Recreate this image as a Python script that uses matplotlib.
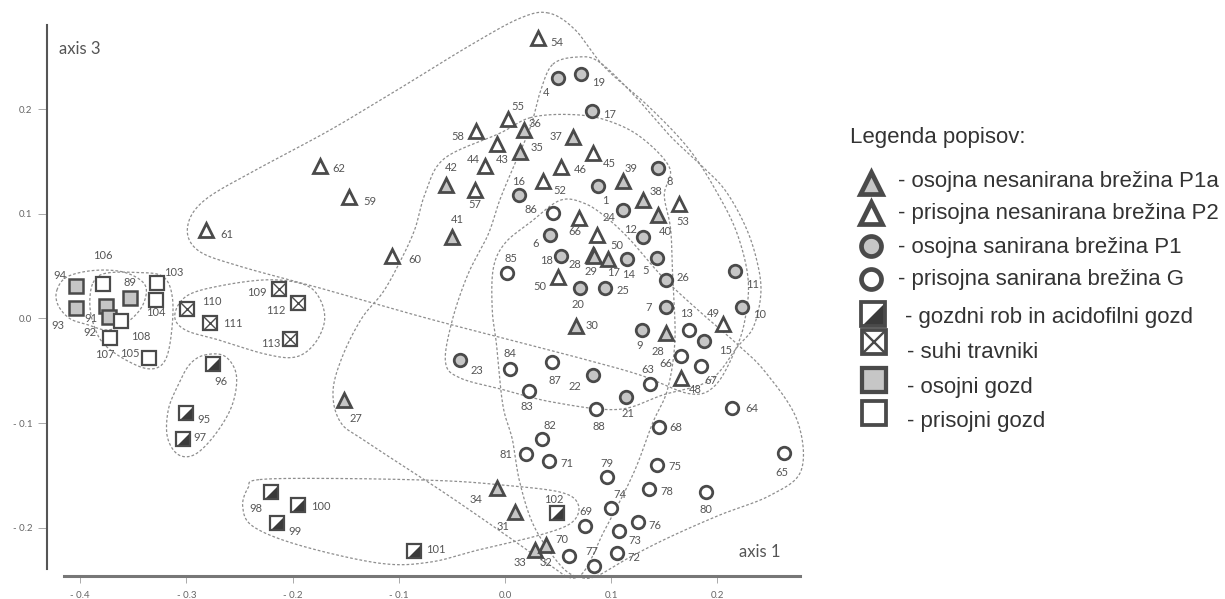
import numpy as np
import matplotlib.pyplot as plt

# releve scores on ordination axes 1 and 3, grouped by habitat type
p1a_id = ['36', '35', '42', '41', '37', '39', '38', '40', '28', '29', '17', '30', '28', '27', '34', '31', '33', '32']
p1a_x = [0.018, 0.014, -0.056, -0.050, 0.064, 0.111, 0.130, 0.144, 0.083, 0.084, 0.097, 0.067, 0.152, -0.152,
         -0.008, 0.009, 0.028, 0.039]
p1a_y = [0.180, 0.159, 0.128, 0.078, 0.173, 0.131, 0.113, 0.099, 0.061, 0.060, 0.057, -0.007, -0.014, -0.078,
         -0.162, -0.185, -0.221, -0.217]

p2_id = ['54', '55', '58', '43', '44', '57', '46', '52', '45', '53', '62', '59', '61', '60', '66', '50', '50', '49', '48']
p2_x = [0.031, 0.003, -0.027, -0.008, -0.019, -0.028, 0.053, 0.036, 0.083, 0.164, -0.174, -0.147, -0.282, -0.106,
        0.070, 0.087, 0.050, 0.205, 0.166]
p2_y = [0.268, 0.191, 0.179, 0.167, 0.146, 0.123, 0.145, 0.131, 0.158, 0.109, 0.146, 0.116, 0.085, 0.060,
        0.096, 0.080, 0.040, -0.005, -0.057]

p1_id = ['1', '8', '24', '16', '12', '5', '14', '26', '6', '18', '20', '25', '11', '10', '7', '9', '15', '22', '21',
         '23', '4', '19', '17']
p1_x = [0.088, 0.144, 0.111, 0.013, 0.130, 0.143, 0.115, 0.152, 0.042, 0.053, 0.071, 0.094, 0.217, 0.223, 0.152,
        0.129, 0.187, 0.083, 0.114, -0.042, 0.050, 0.072, 0.082]
p1_y = [0.127, 0.144, 0.104, 0.118, 0.078, 0.058, 0.057, 0.037, 0.080, 0.060, 0.029, 0.029, 0.045, 0.011, 0.011,
        -0.011, -0.022, -0.054, -0.075, -0.040, 0.230, 0.234, 0.198]

g_id = ['86', '85', '13', '66', '67', '84', '87', '83', '63', '88', '68', '64', '82', '81', '71', '79', '75', '78',
        '80', '65', '74', '69', '76', '73', '72', '70', '77']
g_x = [0.045, 0.002, 0.173, 0.166, 0.185, 0.005, 0.044, 0.023, 0.137, 0.086, 0.145, 0.214, 0.035, 0.020, 0.041,
       0.096, 0.143, 0.136, 0.189, 0.263, 0.100, 0.075, 0.125, 0.107, 0.105, 0.060, 0.084]
g_y = [0.101, 0.043, -0.011, -0.036, -0.045, -0.048, -0.042, -0.069, -0.063, -0.087, -0.104, -0.086, -0.115,
       -0.130, -0.136, -0.152, -0.140, -0.163, -0.166, -0.129, -0.181, -0.198, -0.195, -0.203, -0.224, -0.227, -0.237]

rob_id = ['96', '95', '97', '98', '100', '99', '101', '102']
rob_x = [-0.275, -0.300, -0.303, -0.220, -0.195, -0.215, -0.086, 0.049]
rob_y = [-0.044, -0.090, -0.115, -0.166, -0.178, -0.196, -0.222, -0.186]

suhi_id = ['110', '111', '109', '112', '113']
suhi_x = [-0.299, -0.278, -0.213, -0.195, -0.202]
suhi_y = [0.009, -0.004, 0.028, 0.015, -0.020]

osg_id = ['94', '93', '89', '91', '92']
osg_x = [-0.404, -0.404, -0.353, -0.376, -0.373]
osg_y = [0.031, 0.010, 0.020, 0.012, 0.001]

prg_id = ['106', '103', '104', '108', '107', '105']
prg_x = [-0.379, -0.328, -0.329, -0.362, -0.372, -0.335]
prg_y = [0.033, 0.034, 0.018, -0.002, -0.019, -0.038]

# outlines drawn around each group
hull_p2_x = [0.041, 0.014, -0.033, -0.099, -0.165, -0.231, -0.283, -0.299, -0.289, -0.250, -0.174, -0.080, -0.005,
             0.071, 0.127, 0.174, 0.198, 0.217, 0.226, 0.229, 0.219, 0.201, 0.174, 0.137, 0.094, 0.066]
hull_p2_y = [0.292, 0.287, 0.261, 0.220, 0.180, 0.144, 0.113, 0.087, 0.065, 0.050, 0.029, 0.002, -0.018,
             -0.038, -0.054, -0.072, -0.064, -0.030, -0.001, 0.037, 0.080, 0.118, 0.161, 0.201, 0.240, 0.276]

hull_p1_x = [0.045, 0.069, 0.089, 0.121, 0.155, 0.184, 0.207, 0.226, 0.237, 0.241, 0.234, 0.219, 0.193, 0.149,
             0.106, 0.045, -0.002, -0.042, -0.056, -0.050, -0.035, -0.016, -0.005, 0.008, 0.024, 0.033]
hull_p1_y = [0.243, 0.250, 0.245, 0.214, 0.175, 0.147, 0.123, 0.089, 0.056, 0.025, -0.008, -0.027, -0.059, -0.073,
             -0.087, -0.080, -0.068, -0.057, -0.042, -0.003, 0.042, 0.080, 0.113, 0.145, 0.183, 0.216]

hull_p1a_x = [0.024, -0.005, -0.057, -0.075, -0.085, -0.099, -0.115, -0.135, -0.153, -0.162, -0.155, -0.132,
              -0.061, -0.002, 0.038, 0.069, 0.094, 0.121, 0.139, 0.153, 0.160, 0.158, 0.156, 0.150, 0.155, 0.127,
              0.094, 0.061]
hull_p1a_y = [0.192, 0.177, 0.153, 0.120, 0.085, 0.054, 0.025, 0.000, -0.036, -0.070, -0.099, -0.117, -0.164,
              -0.205, -0.233, -0.247, -0.202, -0.148, -0.100, -0.068, -0.021, 0.037, 0.085, 0.118, 0.144, 0.174,
              0.190, 0.195]

hull_g_x = [0.052, 0.075, 0.096, 0.118, 0.149, 0.184, 0.217, 0.245, 0.275, 0.279, 0.250, 0.202, 0.155, 0.118,
            0.089, 0.073, 0.054, 0.028, 0.014, 0.007, -0.002, -0.008, -0.012, -0.011, 0.000, 0.024]
hull_g_y = [0.113, 0.110, 0.096, 0.075, 0.039, 0.006, -0.023, -0.051, -0.097, -0.145, -0.169, -0.188, -0.209,
            -0.228, -0.245, -0.248, -0.238, -0.200, -0.157, -0.116, -0.083, -0.025, 0.008, 0.048, 0.072, 0.092]

hull_suhi_x = [-0.311, -0.299, -0.264, -0.221, -0.188, -0.174, -0.170, -0.180, -0.198, -0.226, -0.268, -0.301]
hull_suhi_y = [0.003, 0.022, 0.032, 0.037, 0.032, 0.018, -0.003, -0.025, -0.037, -0.034, -0.021, -0.011]

hull_rob1_x = [-0.283, -0.264, -0.253, -0.257, -0.273, -0.292, -0.308, -0.318, -0.317, -0.308, -0.297]
hull_rob1_y = [-0.035, -0.036, -0.054, -0.083, -0.111, -0.130, -0.130, -0.113, -0.087, -0.064, -0.044]

hull_rob2_x = [-0.231, -0.155, -0.061, -0.005, 0.052, 0.069, 0.063, 0.033, -0.024, -0.071, -0.118, -0.193,
               -0.237, -0.247, -0.242]
hull_rob2_y = [-0.154, -0.153, -0.155, -0.159, -0.166, -0.178, -0.195, -0.207, -0.221, -0.233, -0.234, -0.217,
               -0.199, -0.180, -0.162]

hull_osg_x = [-0.422, -0.412, -0.386, -0.358, -0.339, -0.341, -0.355, -0.374, -0.393, -0.410, -0.421]
hull_osg_y = [0.027, 0.040, 0.046, 0.044, 0.032, 0.013, -0.003, -0.011, -0.006, 0.000, 0.013]

hull_prg_x = [-0.388, -0.377, -0.348, -0.322, -0.313, -0.315, -0.322, -0.337, -0.360, -0.379, -0.388, -0.391]
hull_prg_y = [0.034, 0.043, 0.044, 0.040, 0.018, -0.021, -0.043, -0.048, -0.038, -0.023, -0.004, 0.015]

# label offsets (pixels, right / up) for each point
p1a_off = [(11, 7), (17, 5), (6, 17), (5, 17), (-17, 1), (8, 13), (13, 9), (7, -17), (-18, -10), (-3, -16),
           (6, -14), (16, 0), (-9, -18), (12, -18), (-20, -12), (-12, -15), (-15, -13), (0, -17)]
p2_off = [(19, -4), (10, 12), (-19, -5), (6, -16), (-12, 6), (0, -15), (19, -3), (17, -9), (16, -10), (4, -17),
          (19, -3), (21, -4), (21, -5), (22, -4), (-4, -13), (19, -11), (-18, -10), (-9, 10), (14, -11)]
p1_off = [(7, -15), (12, -14), (-14, -8), (0, 14), (-13, 7), (-11, -13), (1, -16), (17, 2), (-14, -9), (-15, -5),
          (-2, -16), (18, -2), (17, -13), (18, -8), (-18, -1), (-2, -16), (22, -9), (-18, -12), (2, -17),
          (16, -10), (-12, -15), (17, -9), (17, -3)]
g_off = [(-22, 3), (4, 15), (-2, 16), (-15, -7), (9, -15), (0, 15), (3, -18), (-3, -16), (-3, 15), (3, -17),
         (17, 0), (20, 0), (8, 13), (-20, 0), (18, -3), (0, 14), (18, -2), (17, -3), (0, -17), (-2, -19), (9, 13),
         (1, 14), (17, -3), (16, -10), (17, -5), (-7, 16), (-2, 15)]
rob_off = [(8, -17), (18, -7), (17, 1), (-16, -16), (23, -2), (18, -8), (22, 1), (-3, 14)]
suhi_off = [(24, 8), (23, -1), (-22, -3), (-22, -8), (-20, -4)]
osg_off = [(-16, 11), (-18, -17), (0, 15), (-15, -13), (-19, -15)]
prg_off = [(0, 28), (17, 10), (0, -13), (20, -16), (-5, -16), (-19, 5)]

legend_labels = ['- osojna nesanirana brežina P1a', '- prisojna nesanirana brežina P2',
                 '- osojna sanirana brežina P1', '- prisojna sanirana brežina G',
                 '- gozdni rob in acidofilni gozd', '- suhi travniki', '- osojni gozd', '- prisojni gozd']

EDGE = '#4a4a4a'
GRAY = '#c6c6c6'
DARK = '#3a3a3a'
HALF = [(-1, -1), (1, -1), (1, 1)]


def closed_curve(xs, ys, n=24):
    # closed Catmull-Rom spline through the outline points
    pts = np.column_stack([xs, ys])
    P = np.vstack([pts[-1], pts, pts[0], pts[1]])
    t = np.linspace(0, 1, n, endpoint=False)[:, None]
    segs = []
    for i in range(1, len(pts) + 1):
        p0, p1, p2, p3 = P[i - 1], P[i], P[i + 1], P[i + 2]
        segs.append(0.5 * (2 * p1 + (-p0 + p2) * t + (2 * p0 - 5 * p1 + 4 * p2 - p3) * t ** 2
                           + (-p0 + 3 * p1 - 3 * p2 + p3) * t ** 3))
    out = np.vstack(segs + [segs[0][:1]])
    return out[:, 0], out[:, 1]


def draw_marks(ax, xs, ys, kind, ms, mew, z=3):
    kw = dict(ls='none', zorder=z, clip_on=False)
    if kind == 'tri_gray':
        ax.plot(xs, ys, marker='^', ms=ms, mfc=GRAY, mec=EDGE, mew=mew, **kw)
    elif kind == 'tri_open':
        ax.plot(xs, ys, marker='^', ms=ms, mfc='white', mec=EDGE, mew=mew, **kw)
    elif kind == 'circ_gray':
        ax.plot(xs, ys, marker='o', ms=ms * 0.9, mfc=GRAY, mec=EDGE, mew=mew, **kw)
    elif kind == 'circ_open':
        ax.plot(xs, ys, marker='o', ms=ms * 0.9, mfc='white', mec=EDGE, mew=mew, **kw)
    elif kind == 'sq_half':
        ax.plot(xs, ys, marker='s', ms=ms, mfc='white', mec='none', **kw)
        ax.plot(xs, ys, marker=HALF, ms=ms, mfc=DARK, mec='none', **kw)
        ax.plot(xs, ys, marker='s', ms=ms, mfc='none', mec=EDGE, mew=mew * 0.8, **kw)
    elif kind == 'sq_cross':
        ax.plot(xs, ys, marker='s', ms=ms, mfc='white', mec=EDGE, mew=mew * 0.8, **kw)
        ax.plot(xs, ys, marker='x', ms=ms, mec=EDGE, mew=mew * 0.5, **kw)
    elif kind == 'sq_gray':
        ax.plot(xs, ys, marker='s', ms=ms, mfc=GRAY, mec=EDGE, mew=mew * 0.9, **kw)
    else:
        ax.plot(xs, ys, marker='s', ms=ms, mfc='white', mec=EDGE, mew=mew * 0.8, **kw)


plt.rcParams['font.family'] = ['Lato', 'DejaVu Sans']

fig = plt.figure(figsize=(12.25, 5.99), dpi=100)
ax = fig.add_axes([47 / 1225, 23 / 599, 753 / 1225, 568 / 599])
ax.set_xlim(-0.4313, 0.2778)
ax.set_ylim(-0.2462, 0.2968)
ax.patch.set_alpha(0)

for sp in ('top', 'right'):
    ax.spines[sp].set_visible(False)
ax.spines['left'].set_bounds(-0.2395, 0.2806)
ax.spines['left'].set_color('#555555')
ax.spines['left'].set_linewidth(1.5)
ax.spines['bottom'].set_bounds(-0.4153, 0.2778)
ax.spines['bottom'].set_color('#777777')
ax.spines['bottom'].set_linewidth(2.2)

ax.set_xticks([-0.4, -0.3, -0.2, -0.1, 0.0, 0.1, 0.2])
ax.set_xticklabels(['- 0.4', '- 0.3', '- 0.2', '- 0.1', '0.0', '0.1', '0.2'])
ax.set_yticks([-0.2, -0.1, 0.0, 0.1, 0.2])
ax.set_yticklabels(['- 0.2', '- 0.1', '0.0', '0.1', '0.2'])
ax.tick_params(axis='both', direction='out', color='#aaaaaa', width=0.7, labelsize=7, labelcolor='#666666')
ax.tick_params(axis='y', length=6.5, pad=4)
ax.tick_params(axis='x', length=5, pad=6)

ax.text(0.0165, 0.9285, 'axis 3', transform=ax.transAxes, fontsize=12, color='#555555', va='center')
ax.text(0.947, 0.0425, 'axis 1', transform=ax.transAxes, fontsize=12, color='#555555', va='center', ha='center')

hulls = [(hull_p2_x, hull_p2_y), (hull_p1_x, hull_p1_y), (hull_p1a_x, hull_p1a_y), (hull_g_x, hull_g_y),
         (hull_suhi_x, hull_suhi_y), (hull_rob1_x, hull_rob1_y), (hull_rob2_x, hull_rob2_y),
         (hull_osg_x, hull_osg_y), (hull_prg_x, hull_prg_y)]
for hx, hy in hulls:
    cx, cy = closed_curve(hx, hy)
    ax.plot(cx, cy, color='#8e8e8e', lw=0.9, ls=(0, (2.2, 1.6)), zorder=1, clip_on=False)

groups = [
    (p1a_id, p1a_x, p1a_y, p1a_off, 'tri_gray', 10),
    (p2_id, p2_x, p2_y, p2_off, 'tri_open', 10),
    (p1_id, p1_x, p1_y, p1_off, 'circ_gray', 10),
    (g_id, g_x, g_y, g_off, 'circ_open', 10),
    (rob_id, rob_x, rob_y, rob_off, 'sq_half', 10),
    (suhi_id, suhi_x, suhi_y, suhi_off, 'sq_cross', 10),
    (osg_id, osg_x, osg_y, osg_off, 'sq_gray', 10),
    (prg_id, prg_x, prg_y, prg_off, 'sq_open', 10),
]
for ids, xs, ys, offs, kind, ms in groups:
    draw_marks(ax, xs, ys, kind, ms, 2.0)
    for lab, x, y, (dx, dy) in zip(ids, xs, ys, offs):
        ax.annotate(lab, (x, y), xytext=(dx, dy), textcoords='offset pixels', ha='center', va='center',
                    fontsize=8, color='#555555', zorder=4, annotation_clip=False)

# legend panel in pixel coordinates
leg = fig.add_axes([0, 0, 1, 1])
leg.set_xlim(0, 1225)
leg.set_ylim(599, 0)
leg.axis('off')
leg.patch.set_visible(False)

leg.text(850, 137, 'Legenda popisov:', fontsize=16, family=['Liberation Sans', 'DejaVu Sans'],
         color='#333333', va='center')
kinds = ['tri_gray', 'tri_open', 'circ_gray', 'circ_open', 'sq_half', 'sq_cross', 'sq_gray', 'sq_open']
mark_x = [871, 871, 871, 871, 873, 874, 874, 874]
mark_y = [183, 213, 246, 279, 314, 342, 380, 413]
text_x = [898, 898, 898, 898, 905, 907, 907, 907]
text_y = [182, 214, 247, 280, 317, 353, 388, 421]
for kind, mx, my, tx, ty, txt in zip(kinds, mark_x, mark_y, text_x, text_y, legend_labels):
    size = 16 if kind.startswith(('tri', 'circ')) else 17
    draw_marks(leg, [mx], [my], kind, size, 3.4)
    leg.text(tx, ty, txt, fontsize=16, family=['Liberation Sans', 'DejaVu Sans'], color='#333333',
             va='center')

fig.savefig('out.png', dpi=100)
